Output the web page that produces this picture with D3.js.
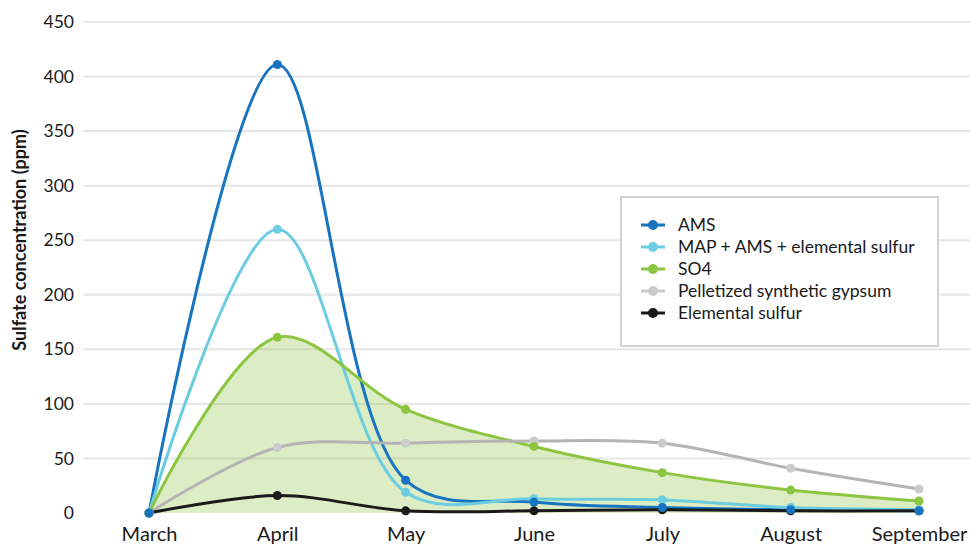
<!DOCTYPE html>
<html>
<head>
<meta charset="utf-8">
<script src="https://cdn.jsdelivr.net/npm/d3@7"></script>
<style>
  body { margin: 0; background: #fff; }
  svg { display: block; font-family: Lato, "Noto Sans", sans-serif; }
</style>
</head>
<body>
<div id="chart"></div>
<script>
// ---------------------------------------------- DATA ----------------------------------------------
var months = ["March", "April", "May", "June", "July", "August", "September"];
var yTicks = [0, 50, 100, 150, 200, 250, 300, 350, 400, 450];

var ams       = [0, 411, 30, 10, 5, 3, 2];
var mapAms    = [0, 260, 19, 13, 12, 5, 3];
var so4       = [0, 161, 95, 61, 37, 21, 11];
var gypsum    = [0, 60, 64, 66, 64, 41, 22];
var elemental = [0, 16, 2, 2, 3, 2, 2];

var seriesNames = ["AMS", "MAP + AMS + elemental sulfur", "SO4", "Pelletized synthetic gypsum", "Elemental sulfur"];

// ---------------------------------------------- SETUP ---------------------------------------------
var width = 970;
var height = 544;

var svg = d3.select("#chart").append("svg")
    .attr("width", width)
    .attr("height", height);

var x = d3.scalePoint()
    .domain(months)
    .range([149, 919]);

var y = d3.scaleLinear()
    .domain([0, 450])
    .range([513, 22]);

var series = [
  { name: seriesNames[0], values: ams,       line: "#1874be", dot: "#1874be" },
  { name: seriesNames[1], values: mapAms,    line: "#6dcde0", dot: "#6dcde0" },
  { name: seriesNames[2], values: so4,       line: "#8cc540", dot: "#8cc540" },
  { name: seriesNames[3], values: gypsum,    line: "#b4b4b4", dot: "#cbcbcb" },
  { name: seriesNames[4], values: elemental, line: "#1a1a1a", dot: "#1a1a1a" }
];

// ---------------------------------------------- GRID ----------------------------------------------
svg.append("g")
    .selectAll("line")
    .data(yTicks.filter(function(d) { return d > 0; }))
    .enter().append("line")
    .attr("x1", 83)
    .attr("x2", width)
    .attr("y1", function(d) { return y(d); })
    .attr("y2", function(d) { return y(d); })
    .attr("stroke", "#e6e6e6")
    .attr("stroke-width", 2);

// ---------------------------------------------- AXES ----------------------------------------------
var yAxis = svg.append("g")
    .attr("transform", "translate(74,0)")
    .call(d3.axisLeft(y).tickValues(yTicks).tickSize(0).tickPadding(0));
yAxis.select(".domain").remove();
yAxis.selectAll("text")
    .attr("fill", "#1a1a1a")
    .style("font-size", "17.5px")
    .style("font-family", "Lato, 'Noto Sans', sans-serif");

var xAxis = svg.append("g")
    .attr("transform", "translate(0,521)")
    .call(d3.axisBottom(x).tickSize(0).tickPadding(0));
xAxis.select(".domain").remove();
xAxis.selectAll("text")
    .attr("fill", "#1a1a1a")
    .attr("dy", "1em")
    .style("font-size", "20px")
    .style("font-family", "Lato, 'Noto Sans', sans-serif");

svg.append("text")
    .attr("transform", "translate(26,240) rotate(-90)")
    .attr("text-anchor", "middle")
    .attr("fill", "#1a1a1a")
    .style("font-size", "18px")
    .style("font-weight", "bold")
    .text("Sulfate concentration (ppm)");

// ---------------------------------------------- AREA + LINES --------------------------------------
var curve = d3.curveCatmullRom.alpha(0.5);

var area = d3.area()
    .x(function(d, i) { return x(months[i]); })
    .y0(y(0))
    .y1(function(d) { return y(d); })
    .curve(curve);

svg.append("path")
    .datum(so4)
    .attr("d", area)
    .attr("fill", "#8cc540")
    .attr("fill-opacity", 0.3);

var line = d3.line()
    .x(function(d, i) { return x(months[i]); })
    .y(function(d) { return y(d); })
    .curve(curve);

svg.append("g")
    .selectAll("path")
    .data(series)
    .enter().append("path")
    .attr("d", function(s) { return line(s.values); })
    .attr("fill", "none")
    .attr("stroke", function(s) { return s.line; })
    .attr("stroke-width", 3);

// markers: AMS ends up on top
series.slice().reverse().forEach(function(s) {
  svg.append("g")
      .selectAll("circle")
      .data(s.values)
      .enter().append("circle")
      .attr("cx", function(d, i) { return x(months[i]); })
      .attr("cy", function(d) { return y(d); })
      .attr("r", 4.5)
      .attr("fill", s.dot);
});

// ---------------------------------------------- LEGEND --------------------------------------------
var legend = svg.append("g").attr("transform", "translate(621,197)");

legend.append("rect")
    .attr("width", 317)
    .attr("height", 149)
    .attr("fill", "#fff")
    .attr("stroke", "#d2d2d2")
    .attr("stroke-width", 2);

var item = legend.selectAll(".item")
    .data(series)
    .enter().append("g")
    .attr("class", "item")
    .attr("transform", function(d, i) { return "translate(0," + (28 + i * 22) + ")"; });

item.append("line")
    .attr("x1", 20)
    .attr("x2", 44)
    .attr("stroke", function(s) { return s.name === seriesNames[3] ? s.dot : s.line; })
    .attr("stroke-width", 3);

item.append("circle")
    .attr("cx", 32)
    .attr("r", 5)
    .attr("fill", function(s) { return s.dot; });

item.append("text")
    .attr("x", 57)
    .attr("dy", "0.35em")
    .attr("fill", "#1a1a1a")
    .style("font-size", "17.5px")
    .text(function(s) { return s.name; });
</script>
</body>
</html>
